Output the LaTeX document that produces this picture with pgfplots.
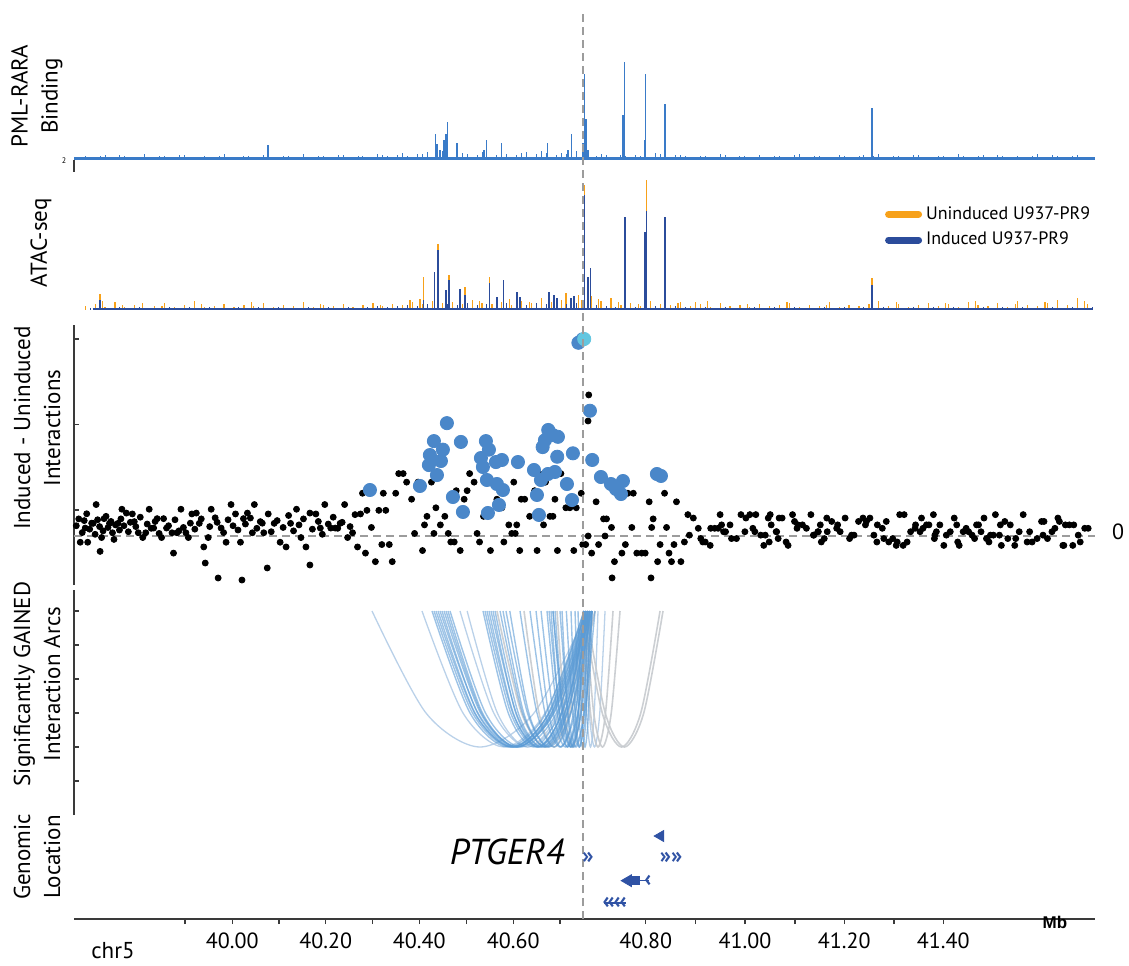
\documentclass[border=0pt]{standalone}
\usepackage{fontspec}
\setmainfont{PT Sans}
\newfontfamily\arialfont{Liberation Sans}
\usepackage{pgfplots}
\pgfplotsset{compat=1.18}

\definecolor{pmlblue}{HTML}{3A7BC8}
\definecolor{atacorange}{HTML}{F7A11A}
\definecolor{atacblue}{HTML}{2B4C9B}
\definecolor{dotblue}{HTML}{4A87C9}
\definecolor{dotcyan}{HTML}{62C6E0}
\definecolor{arcblue}{HTML}{5B9BD5}
\definecolor{arcpale}{HTML}{A9C6E3}
\definecolor{arcgray}{HTML}{C6CACE}
\definecolor{geneblue}{HTML}{2F52A4}
\definecolor{dashgray}{HTML}{9C9C9C}
\definecolor{spine}{HTML}{3A3A3A}

\pgfplotsset{
  track/.style={scale only axis, width=510.5pt, xmin=39.6474, xmax=41.7058,
    anchor=south west, axis line style={spine, line width=0.75pt},
    tick style={spine, line width=0.6pt}, xtick=\empty},
  spinal/.style={axis y line*=left, axis x line=none, tick align=inside,
    major tick length=2.5pt, yticklabels={}},
  arcB/.style={arcblue, opacity=0.6, line width=0.7pt, smooth},
  arcP/.style={arcpale, opacity=0.8, line width=0.65pt, smooth},
  arcG/.style={arcgray, opacity=0.9, line width=0.8pt, smooth},
  chev/.style={geneblue, only marks, mark=text, text mark as node=true,
    text mark style={font=\bfseries\fontsize{11.5}{11.5}\selectfont, text=geneblue, inner sep=0pt}},
}

% one interaction arc between two anchors (Mb)
\newcommand{\arcplot}[3]{%
  \pgfmathsetmacro{\xa}{#1}\pgfmathsetmacro{\xe}{#2}%
  \pgfmathsetmacro{\xb}{0.75*\xa+0.25*\xe}%
  \pgfmathsetmacro{\xc}{0.5*\xa+0.5*\xe}%
  \pgfmathsetmacro{\xd}{0.25*\xa+0.75*\xe}%
  \edef\temp{\noexpand\addplot[#3] coordinates {(\xa,4) (\xb,1) (\xc,0) (\xd,1) (\xe,4)};}\temp}

\begin{document}
\begin{tikzpicture}
\path[use as bounding box] (0,0) rectangle (564.5pt,482.5pt);

% ---------------- PML-RARA binding
\begin{axis}[track, at={(37pt,396.5pt)}, height=66pt, ymin=-12, ymax=120, axis lines=none]
\addplot[pmlblue, line width=1.5pt] coordinates {(39.6474,1.5) (41.7058,1.5)};
\addplot[ycomb, pmlblue, line width=0.5pt] coordinates {
(39.660,3)(39.680,2)(39.700,4)(39.720,3)(39.740,5)(39.760,3)(39.780,2)(39.800,3)(39.820,4)(39.840,3)
(39.860,5)(39.880,2)(39.900,3)(39.920,3)(39.940,4)(39.960,3)(39.980,2)(40.000,4)(40.020,3)(40.040,6)
(40.060,3)(40.080,4)(40.100,2)(40.120,3)(40.140,4)(40.160,3)(40.180,5)(40.200,3)(40.220,4)(40.240,3)
(40.260,6)(40.280,4)(40.300,5)(40.320,4)(40.340,6)(40.360,8)(40.380,5)(40.400,7)(40.420,5)(40.440,6)
(40.460,5)(40.480,7)(40.500,5)(40.520,6)(40.540,5)(40.560,8)(40.580,6)(40.600,7)(40.620,5)(40.640,6)
(40.660,9)(40.700,4)(40.720,5)(40.740,3)(40.760,4)(40.780,5)(40.820,7)(40.840,6)(40.860,5)(40.880,4)
(40.900,3)(40.920,4)(40.940,3)(40.960,5)(40.980,3)(41.000,4)(41.020,3)(41.040,2)(41.060,4)(41.080,3)
(41.100,5)(41.120,3)(41.140,4)(41.160,3)(41.180,2)(41.200,4)(41.220,3)(41.240,5)(41.260,4)(41.280,3)
(41.300,4)(41.320,3)(41.340,5)(41.360,3)(41.380,2)(41.400,4)(41.420,3)(41.440,4)(41.460,3)(41.480,5)
(41.500,3)(41.520,4)(41.540,3)(41.560,2)(41.580,4)(41.600,3)(41.620,5)(41.640,3)(41.660,4)(41.680,3)(41.700,2)
(39.670,4)(39.710,5)(39.750,4)(39.790,6)(39.830,4)(39.870,5)(39.910,4)(39.950,6)(39.990,4)(40.030,5)
(40.070,4)(40.110,6)(40.150,4)(40.190,5)(40.230,4)(40.270,5)(40.310,7)(40.350,6)(40.390,9)(40.430,7)
(40.470,8)(40.510,6)(40.550,7)(40.590,9)(40.630,7)(40.710,6)(40.750,5)(40.790,4)(40.830,6)(40.870,5)
(40.910,4)(40.950,6)(40.990,4)(41.030,5)(41.070,4)(41.110,6)(41.150,4)(41.190,5)(41.230,4)(41.270,6)
(41.310,4)(41.350,5)(41.390,4)(41.430,6)(41.470,4)(41.510,5)(41.550,4)(41.590,6)(41.630,4)(41.670,5)};
\addplot[ycomb, pmlblue, line width=0.7pt] coordinates {
(40.0385,15)(40.3766,26)(40.3792,16)(40.3853,10)(40.3933,20)(40.3974,26)(40.4008,38)(40.4196,17)
(40.4740,10)(40.4794,20)(40.5097,17)(40.6024,17)(40.6433,10)(40.6508,26)(40.6736,17)(40.6762,86)
(40.6796,41)(40.6837,10)(40.7542,45)(40.7569,98)(40.7976,20)(40.8000,86)(40.8389,56)(41.2563,52)};
\end{axis}
\draw[spine, line width=0.75pt] (37pt,402.5pt) -- (37pt,396.5pt);
\node[font=\fontsize{4}{4}\selectfont, inner sep=0] at (32pt,402pt) {2};

% ---------------- ATAC-seq
\begin{axis}[track, at={(37pt,322.5pt)}, height=72.5pt, ymin=-10, ymax=135, axis lines=none,
  legend style={at={(0.794,0.814)}, anchor=north west, draw=none, fill=none,
    font=\fontsize{9}{11}\selectfont, row sep=1pt, inner sep=0pt},
  legend cell align=left]
\addplot[forget plot, ycomb, atacorange, line width=0.6pt] coordinates {
(39.670,4)(39.690,6)(39.710,3)(39.730,8)(39.750,3)(39.770,5)(39.790,2)(39.810,4)(39.830,7)(39.850,3)
(39.870,5)(39.890,9)(39.910,3)(39.930,4)(39.950,6)(39.970,3)(39.990,5)(40.010,4)(40.030,7)(40.050,3)
(40.070,5)(40.090,4)(40.110,8)(40.130,3)(40.150,5)(40.170,4)(40.190,6)(40.210,3)(40.230,5)(40.250,7)
(40.270,4)(40.290,6)(40.310,5)(40.330,8)(40.350,6)(40.370,9)(40.390,7)(40.410,8)(40.430,6)(40.450,10)
(40.470,7)(40.490,6)(40.510,8)(40.530,5)(40.550,9)(40.570,7)(40.590,10)(40.610,8)(40.630,9)(40.650,7)
(40.670,10)(40.690,8)(40.710,9)(40.730,6)(40.750,5)(40.770,7)(40.790,4)(40.810,9)(40.830,6)(40.850,5)
(40.870,8)(40.890,4)(40.910,6)(40.930,3)(40.950,7)(40.970,4)(40.990,5)(41.010,3)(41.030,6)(41.050,4)
(41.070,5)(41.090,7)(41.110,3)(41.130,5)(41.150,4)(41.170,8)(41.190,3)(41.210,5)(41.230,4)(41.250,6)
(41.270,9)(41.290,4)(41.310,6)(41.330,3)(41.350,5)(41.370,7)(41.390,4)(41.410,6)(41.430,3)(41.450,8)
(41.470,5)(41.490,4)(41.510,7)(41.530,3)(41.550,9)(41.570,5)(41.590,4)(41.610,7)(41.630,10)(41.650,5)
(41.670,12)(41.690,6)
(39.705,9)(39.745,5)(39.785,7)(39.825,4)(39.905,6)(40.005,8)(40.145,6)(40.265,5)(40.345,11)(40.405,12)
(40.465,9)(40.525,11)(40.565,8)(40.615,13)(40.665,15)(40.705,11)(40.745,8)(40.785,6)(40.865,7)(40.925,9)
(41.005,6)(41.085,8)(41.165,5)(41.305,8)(41.405,7)(41.465,9)(41.545,6)(41.605,8)(41.685,9)};
\addplot[forget plot, ycomb, atacorange, line width=0.7pt] coordinates {
(39.700,16)(40.3250,10)(40.3516,33)(40.3813,66)(40.4034,35)(40.4357,23)(40.4847,33)(40.5900,12)
(40.6300,10)(40.6393,17)(40.6554,14)(40.6768,125)(40.6900,14)(40.7300,12)(40.8020,130)(40.9000,8)(41.2563,32)};
\addplot[forget plot, atacblue, line width=1.2pt] coordinates {(39.6850,0.8) (41.7000,0.8)};
\addplot[forget plot, ycomb, atacblue, line width=0.5pt] coordinates {
(39.680,2)(39.700,3)(39.720,2)(39.740,3)(39.760,2)(39.780,3)(39.800,2)(39.820,2)(39.840,3)(39.860,2)
(39.880,3)(39.900,2)(39.920,3)(39.940,2)(39.960,2)(39.980,3)(40.000,2)(40.020,3)(40.040,2)(40.060,3)
(40.080,2)(40.100,2)(40.120,3)(40.140,2)(40.160,3)(40.180,2)(40.200,3)(40.220,2)(40.240,3)(40.260,4)
(40.280,3)(40.300,4)(40.320,5)(40.340,4)(40.360,6)(40.380,5)(40.400,6)(40.420,5)(40.440,7)(40.460,5)
(40.480,6)(40.500,5)(40.520,7)(40.540,6)(40.560,5)(40.580,7)(40.600,6)(40.620,8)(40.640,6)(40.660,7)
(40.700,5)(40.720,4)(40.740,3)(40.760,4)(40.780,3)(40.820,4)(40.840,3)(40.860,4)(40.880,3)(40.900,2)
(40.920,3)(40.940,2)(40.960,3)(40.980,2)(41.000,2)(41.020,3)(41.040,2)(41.060,3)(41.080,2)(41.100,3)
(41.120,2)(41.140,2)(41.160,3)(41.180,2)(41.200,3)(41.220,2)(41.240,3)(41.260,2)(41.280,3)(41.300,2)
(41.320,2)(41.340,3)(41.360,2)(41.380,3)(41.400,2)(41.420,3)(41.440,2)(41.460,2)(41.480,3)(41.500,2)
(41.520,3)(41.540,2)(41.560,3)(41.580,2)(41.600,2)(41.620,3)(41.640,2)(41.660,3)(41.680,2)(41.700,3)};
\addplot[forget plot, ycomb, atacblue, line width=0.7pt] coordinates {
(39.700,10)(40.3516,10)(40.3746,38)(40.3813,60)(40.3974,20)(40.4034,30)(40.4256,21)(40.4357,15)
(40.4847,27)(40.5002,13)(40.5137,30)(40.5405,18)(40.5466,13)(40.6050,18)(40.6151,15)(40.6212,12)
(40.6494,12)(40.6554,14)(40.6768,115)(40.6837,33)(40.6891,42)(40.7583,93)(40.7986,78)(40.8020,99)
(40.8389,93)(41.2563,25)};
\addlegendimage{legend image code/.code={\draw[atacorange, line width=3.5pt, line cap=round] (1.75pt,0pt) -- (16.75pt,0pt);}}
\addlegendentry{Uninduced U937-PR9}
\addlegendimage{legend image code/.code={\draw[atacblue, line width=3.5pt, line cap=round] (1.75pt,0pt) -- (16.75pt,0pt);}}
\addlegendentry{Induced U937-PR9}
\end{axis}

% ---------------- Induced - Uninduced interactions
\begin{axis}[track, spinal, at={(37pt,190pt)}, height=130pt, ymin=-5.731, ymax=24.678,
  ytick={3.04,13.04,23.04}]
\addplot[dashgray, line width=0.9pt, dash pattern=on 4pt off 2.5pt] coordinates {(39.6474,0) (41.7058,0)};
\addplot[only marks, mark=*, mark size=1.5pt, black] coordinates {
(39.660,-0.73)(39.670,0.93)(39.675,-0.73)(39.686,1.48)(39.692,3.68)(39.703,-0.18)(39.708,2.03)(39.719,1.48)
(39.725,0.38)(39.736,1.48)(39.744,3.13)(39.753,2.68)(39.765,2.58)(39.769,1.68)(39.777,0.38)(39.786,-0.18)
(39.792,0.38)(39.799,3.13)(39.808,0.93)(39.815,2.03)(39.824,-0.18)(39.828,2.03)(39.834,0.93)(39.845,0.38)
(39.855,0.38)(39.863,3.13)(39.873,0.38)(39.878,-0.18)(39.885,2.58)(39.894,2.68)(39.900,1.48)(39.909,-1.28)
(39.918,-0.18)(39.924,3.13)(39.932,2.13)(39.944,0.93)(39.954,-0.73)(39.964,3.68)(39.973,2.58)(39.983,-0.73)
(39.989,2.03)(39.997,2.68)(40.007,0.38)(40.011,3.68)(40.023,1.68)(40.030,0.38)(40.039,2.58)(40.051,1.48)
(40.063,-0.73)(40.075,-1.28)(40.084,1.48)(40.096,3.13)(40.105,-0.18)(40.115,-1.28)(40.123,2.68)(40.135,2.58)
(40.144,0.93)(40.153,3.68)(40.165,0.93)(40.174,0.93)(40.184,1.48)(40.193,3.68)(40.199,-0.18)(40.209,0.38)
(40.219,-1.28)(40.225,2.58)
(39.652,1.2)(39.657,2.0)(39.664,0.4)(39.668,1.8)(39.673,2.6)(39.679,0.8)(39.683,1.5)(39.690,0.2)
(39.695,1.9)(39.699,1.1)(39.706,0.6)(39.712,2.3)(39.716,1.0)(39.722,1.7)(39.728,-0.4)(39.731,1.3)
(39.739,0.7)(39.742,2.0)(39.748,1.2)(39.757,0.5)(39.761,1.6)(39.772,1.1)(39.781,2.2)(39.795,1.4)
(39.803,0.9)(39.811,1.7)(39.819,0.3)(39.838,1.2)(39.851,1.9)(39.859,0.6)(39.868,1.0)(39.882,1.5)
(39.891,0.8)(39.904,2.0)(39.921,1.1)(39.936,1.6)(39.949,0.4)(39.958,1.9)(39.968,1.2)(39.978,0.7)
(39.993,1.4)(40.003,2.1)(40.016,0.9)(40.027,1.5)(40.045,0.5)(40.057,1.8)(40.069,1.0)(40.080,2.4)
(40.090,0.6)(40.101,1.3)(40.110,2.0)(40.128,0.8)(40.140,1.7)(40.148,0.2)(40.160,1.4)(40.170,2.2)
(40.179,0.9)(40.188,1.6)(40.204,1.1)(40.214,2.5)
(39.912,-3.16)(39.938,-4.91)(39.986,-5.15)(40.037,-3.74)(40.123,-3.39)(39.848,-2.0)(39.700,-1.8)
(40.229,5.0)(40.235,-2.0)(40.238,3.0)(40.247,1.0)(40.255,-3.0)(40.262,3.0)(40.268,-1.0)(40.271,5.0)
(40.276,3.0)(40.283,-1.0)(40.289,-3.0)(40.296,5.0)(40.302,7.3)(40.311,7.3)(40.318,6.3)(40.328,4.3)
(40.334,0.3)(40.341,6.3)(40.350,-1.7)(40.354,1.3)(40.359,2.3)(40.368,6.3)(40.373,0.3)(40.377,3.3)
(40.386,1.3)(40.395,2.3)(40.402,0.3)(40.407,-0.7)(40.414,-0.7)(40.418,5.3)(40.426,-1.7)(40.434,4.3)
(40.440,5.3)(40.445,7.3)(40.454,6.3)(40.460,0.3)(40.465,-0.7)(40.473,2.3)(40.479,6.3)(40.487,-1.7)
(40.495,6.3)(40.500,4.3)(40.510,3.3)(40.514,-0.7)(40.524,1.3)(40.530,0.3)(40.534,6.3)(40.537,0.3)
(40.540,1.3)(40.546,-1.7)(40.549,4.3)(40.556,4.3)(40.566,2.3)(40.576,5.3)(40.581,-1.7)(40.585,7.3)
(40.594,1.3)(40.598,6.3)(40.607,2.3)(40.613,2.3)(40.617,4.3)(40.622,-1.7)(40.629,7.3)(40.639,3.3)
(40.647,3.3)(40.655,-1.7)(40.660,3.3)(40.670,5.0)(40.673,-1.0)(40.679,-1.0)(40.684,0.0)(40.691,-2.0)
(40.700,4.0)(40.705,-1.0)(40.715,2.0)(40.718,0.0)(40.721,2.0)(40.726,6.0)(40.731,1.0)(40.737,-3.0)
(40.742,5.0)(40.752,-2.0)(40.759,-1.0)(40.764,5.0)(40.772,1.0)(40.775,5.0)(40.782,-2.0)(40.792,-2.0)
(40.799,-2.0)(40.807,4.0)(40.812,1.0)(40.815,2.0)(40.824,-3.0)(40.829,-1.0)(40.838,5.0)(40.842,1.0)
(40.847,-2.0)(40.852,-3.0)(40.857,-1.0)(40.862,4.0)(40.871,-3.0)
(40.6851,16.5)(40.6837,13.45)(40.7322,-4.9)(40.8107,-4.9)
(40.878,-0.7)(40.885,2.5)(40.888,0.1)(40.896,2.1)(40.906,0.9)(40.911,-0.3)(40.915,-0.7)(40.920,-0.7)
(40.930,-1.1)(40.931,0.9)(40.939,0.9)(40.946,0.9)(40.950,2.5)(40.953,1.3)(40.957,0.5)(40.961,0.5)
(40.970,1.3)(40.973,-0.3)(40.983,-0.3)(40.992,2.5)(41.000,0.5)(41.002,2.1)(41.010,2.5)(41.016,0.9)
(41.020,0.5)(41.022,2.5)(41.032,0.1)(41.038,-1.1)(41.041,0.1)(41.047,2.1)(41.049,-0.7)(41.051,2.5)
(41.053,1.3)(41.063,0.5)(41.064,0.5)(41.067,-0.3)(41.069,2.1)(41.075,2.1)(41.083,-0.7)(41.087,-1.1)
(41.096,2.5)(41.100,1.7)(41.105,0.9)(41.107,1.3)(41.116,1.3)(41.124,0.9)(41.133,2.5)(41.138,0.1)
(41.139,0.1)(41.147,0.5)(41.148,0.5)(41.152,1.3)(41.154,-0.7)(41.160,-0.3)(41.165,2.1)(41.166,0.5)
(41.175,1.7)(41.185,0.9)(41.187,1.3)(41.192,0.5)(41.202,2.1)(41.211,-0.3)(41.215,0.1)(41.220,0.1)
(41.229,1.7)(41.238,2.1)(41.243,1.3)(41.245,1.7)(41.252,2.1)(41.260,0.1)(41.266,-0.7)(41.267,1.3)
(41.277,0.9)(41.280,-0.3)(41.285,1.7)(41.290,-0.7)(41.298,-0.3)(41.305,-1.1)(41.307,-0.7)(41.312,2.5)
(41.319,-1.1)(41.321,2.5)(41.327,-0.7)(41.334,0.5)(41.343,0.9)(41.344,1.3)(41.353,0.5)(41.356,2.1)
(41.359,0.9)(41.366,1.3)(41.371,1.3)(41.380,2.5)(41.382,-0.3)(41.383,0.1)(41.386,0.5)(41.393,1.3)
(41.401,-1.1)(41.406,0.1)(41.414,0.5)(41.422,2.1)(41.427,1.3)(41.429,-0.7)(41.432,-1.1)(41.440,0.5)
(41.446,0.9)(41.451,0.5)(41.458,0.1)(41.463,-0.3)(41.467,1.3)(41.471,1.3)(41.476,0.5)(41.482,2.1)
(41.487,-0.3)(41.492,-0.7)(41.495,0.1)(41.501,0.1)(41.505,2.5)(41.513,0.1)(41.515,1.3)(41.517,-1.1)
(41.524,1.7)(41.530,-0.3)(41.535,1.3)(41.544,-1.1)(41.546,-0.3)(41.553,0.5)(41.561,2.5)(41.569,-0.7)
(41.574,0.5)(41.579,-0.7)(41.589,-0.3)(41.598,1.7)(41.601,0.1)(41.603,1.7)(41.610,-0.3)(41.619,0.5)
(41.625,0.9)(41.631,2.1)(41.634,1.7)(41.641,-1.1)(41.643,-1.1)(41.646,1.3)(41.654,1.3)(41.661,-1.1)
(41.663,1.3)(41.672,0.1)(41.676,-0.7)(41.685,0.9)(41.692,0.9)};
\addplot[only marks, mark=*, mark size=3.3pt, dotblue] coordinates {
(40.6643,22.6)(40.6728,23.0)(40.6875,14.65)(40.6532,9.67)(40.6922,8.89)(40.6035,12.4)(40.6129,11.8)
(40.6230,11.6)(40.5968,11.2)(40.5922,10.4)(40.6216,9.27)(40.3992,13.2)(40.3730,11.1)(40.4274,11.0)
(40.3911,10.1)(40.3649,9.47)(40.3871,8.77)(40.3629,8.30)(40.3791,7.13)(40.3448,5.85)(40.4113,4.56)
(40.4315,2.81)(40.2440,5.38)(40.4778,11.1)(40.4839,10.1)(40.4678,9.12)(40.4980,8.65)(40.4718,8.07)
(40.5101,8.89)(40.4799,6.55)(40.5000,6.08)(40.5121,5.38)(40.4819,2.69)(40.5041,3.63)(40.5424,8.65)
(40.5747,7.72)(40.5888,6.55)(40.5807,4.80)(40.5847,2.46)(40.6029,7.25)(40.6170,7.49)(40.6412,6.08)
(40.6513,4.21)(40.7097,6.90)(40.7299,6.08)(40.7400,5.50)(40.7541,6.43)(40.7501,4.91)(40.8226,7.25)
(40.8307,7.02)};
\addplot[only marks, mark=*, mark size=3.3pt, dotcyan] coordinates {(40.6760,23.04)};
\end{axis}

% ---------------- Significantly gained interaction arcs
\begin{axis}[track, spinal, at={(37pt,75pt)}, height=112.5pt, ymin=-2, ymax=4.618,
  ytick={-1,0,1,2,3,4}]
\arcplot{40.2482}{40.6837}{arcP}
\arcplot{40.3490}{40.6796}{arcP}
\arcplot{40.4256}{40.6978}{arcP}
\arcplot{40.4400}{40.6837}{arcP}
\arcplot{40.6736}{40.7038}{arcP}
\arcplot{40.6756}{40.7180}{arcP}
\arcplot{40.5002}{40.6978}{arcG}
\arcplot{40.5547}{40.6756}{arcG}
\arcplot{40.6212}{40.6837}{arcG}
\arcplot{40.6736}{40.7341}{arcG}
\arcplot{40.6776}{40.7482}{arcG}
\arcplot{40.6736}{40.8289}{arcG}
\arcplot{40.6796}{40.8349}{arcG}
\arcplot{40.3692}{40.6756}{arcB}
\arcplot{40.3732}{40.6837}{arcB}
\arcplot{40.3772}{40.6877}{arcB}
\arcplot{40.3813}{40.6796}{arcB}
\arcplot{40.3853}{40.6917}{arcB}
\arcplot{40.3893}{40.6756}{arcB}
\arcplot{40.3934}{40.6877}{arcB}
\arcplot{40.3974}{40.6837}{arcB}
\arcplot{40.4014}{40.6796}{arcB}
\arcplot{40.4055}{40.6917}{arcB}
\arcplot{40.4720}{40.6756}{arcB}
\arcplot{40.4760}{40.6837}{arcB}
\arcplot{40.4800}{40.6877}{arcB}
\arcplot{40.4841}{40.6796}{arcB}
\arcplot{40.4881}{40.6917}{arcB}
\arcplot{40.4922}{40.6756}{arcB}
\arcplot{40.4962}{40.6837}{arcB}
\arcplot{40.5063}{40.6877}{arcB}
\arcplot{40.5123}{40.6796}{arcB}
\arcplot{40.5183}{40.6917}{arcB}
\arcplot{40.5260}{40.6796}{arcB}
\arcplot{40.5466}{40.6837}{arcB}
\arcplot{40.5668}{40.6877}{arcB}
\arcplot{40.5789}{40.6796}{arcB}
\arcplot{40.5890}{40.6877}{arcB}
\arcplot{40.6010}{40.6837}{arcB}
\arcplot{40.6051}{40.6917}{arcB}
\arcplot{40.6091}{40.6756}{arcB}
\arcplot{40.6130}{40.6978}{arcB}
\arcplot{40.6131}{40.6877}{arcB}
\arcplot{40.6172}{40.6796}{arcB}
\arcplot{40.6272}{40.6917}{arcB}
\arcplot{40.6313}{40.6756}{arcB}
\arcplot{40.6400}{40.6917}{arcB}
\arcplot{40.6494}{40.6837}{arcB}
\arcplot{40.6575}{40.6877}{arcB}
\arcplot{40.6635}{40.6917}{arcB}
\end{axis}

% ---------------- Genomic location
\begin{axis}[track, at={(37pt,23pt)}, height=50.5pt, ymin=0.283, ymax=4.807,
  axis x line*=bottom, axis y line=none, clip=false,
  xtick={39.9665,40.1548,40.3435,40.5331,40.8,41.0002,41.2004,41.4},
  xticklabels={40.00,40.20,40.40,40.60,40.80,41.00,41.20,41.40},
  minor xtick={39.871,40.0607,40.2496,40.4383,40.6272,40.9008,41.101,41.3006},
  tick align=outside, major tick length=2.5pt, minor tick length=2.5pt,
  xticklabel style={font=\fontsize{11}{13}\selectfont, yshift=-1pt}]
% gene models
\addplot[geneblue, line width=0.6pt] coordinates {(40.7160,1) (40.7603,1)};
\addplot[chev, text mark={‹}] coordinates {(40.7200,1)(40.7301,1)(40.7422,1)(40.7543,1)};
\addplot[geneblue, line width=4.5pt] coordinates {(40.7663,2) (40.7885,2)};
\addplot[geneblue, only marks, mark=triangle*, mark size=3.4pt, mark options={rotate=90}] coordinates {(40.7643,2)};
\addplot[geneblue, line width=0.6pt] coordinates {(40.7885,2) (40.8067,2)};
\addplot[chev, text mark={‹}] coordinates {(40.8046,2)};
\addplot[chev, text mark={»}] coordinates {(40.6837,3)};
\addplot[chev, text mark={»»}] coordinates {(40.8510,3)};
\addplot[geneblue, line width=4pt] coordinates {(40.8310,4) (40.8370,4)};
\addplot[geneblue, only marks, mark=triangle*, mark size=3.2pt, mark options={rotate=90}] coordinates {(40.8300,4)};
% viewpoint
\addplot[dashgray, line width=1pt, dash pattern=on 4pt off 2.5pt] coordinates {(40.6736,0.283) (40.6736,41.04)};
\end{axis}

% ---------------- labels
\begin{scope}[every node/.style={inner sep=0pt, align=center}]
\node[rotate=90, font=\fontsize{11.5}{15}\selectfont] at (18.5pt,434.5pt) {PML-RARA\\Binding};
\node[rotate=90, font=\fontsize{11.5}{15}\selectfont] at (20.5pt,361pt) {ATAC-seq};
\node[rotate=90, font=\fontsize{11.5}{15}\selectfont] at (18.5pt,268.5pt) {Induced - Uninduced\\Interactions};
\node[rotate=90, font=\fontsize{11.5}{15}\selectfont] at (18.5pt,140.5pt) {Significantly GAINED\\Interaction Arcs};
\node[rotate=90, font=\fontsize{11.5}{15}\selectfont] at (18.5pt,54pt) {Genomic\\Location};
\node[font=\fontsize{11}{13}\selectfont] at (559pt,216.5pt) {0};
\node[font=\arialfont\bfseries\fontsize{8.5}{10}\selectfont] at (527.5pt,21.5pt) {Mb};
\node[font=\fontsize{11.5}{13}\selectfont] at (56.5pt,7pt) {chr5};
\node[font=\itshape\fontsize{18}{20}\selectfont] at (253.5pt,56.5pt) {PTGER4};
\end{scope}
\end{tikzpicture}
\end{document}
